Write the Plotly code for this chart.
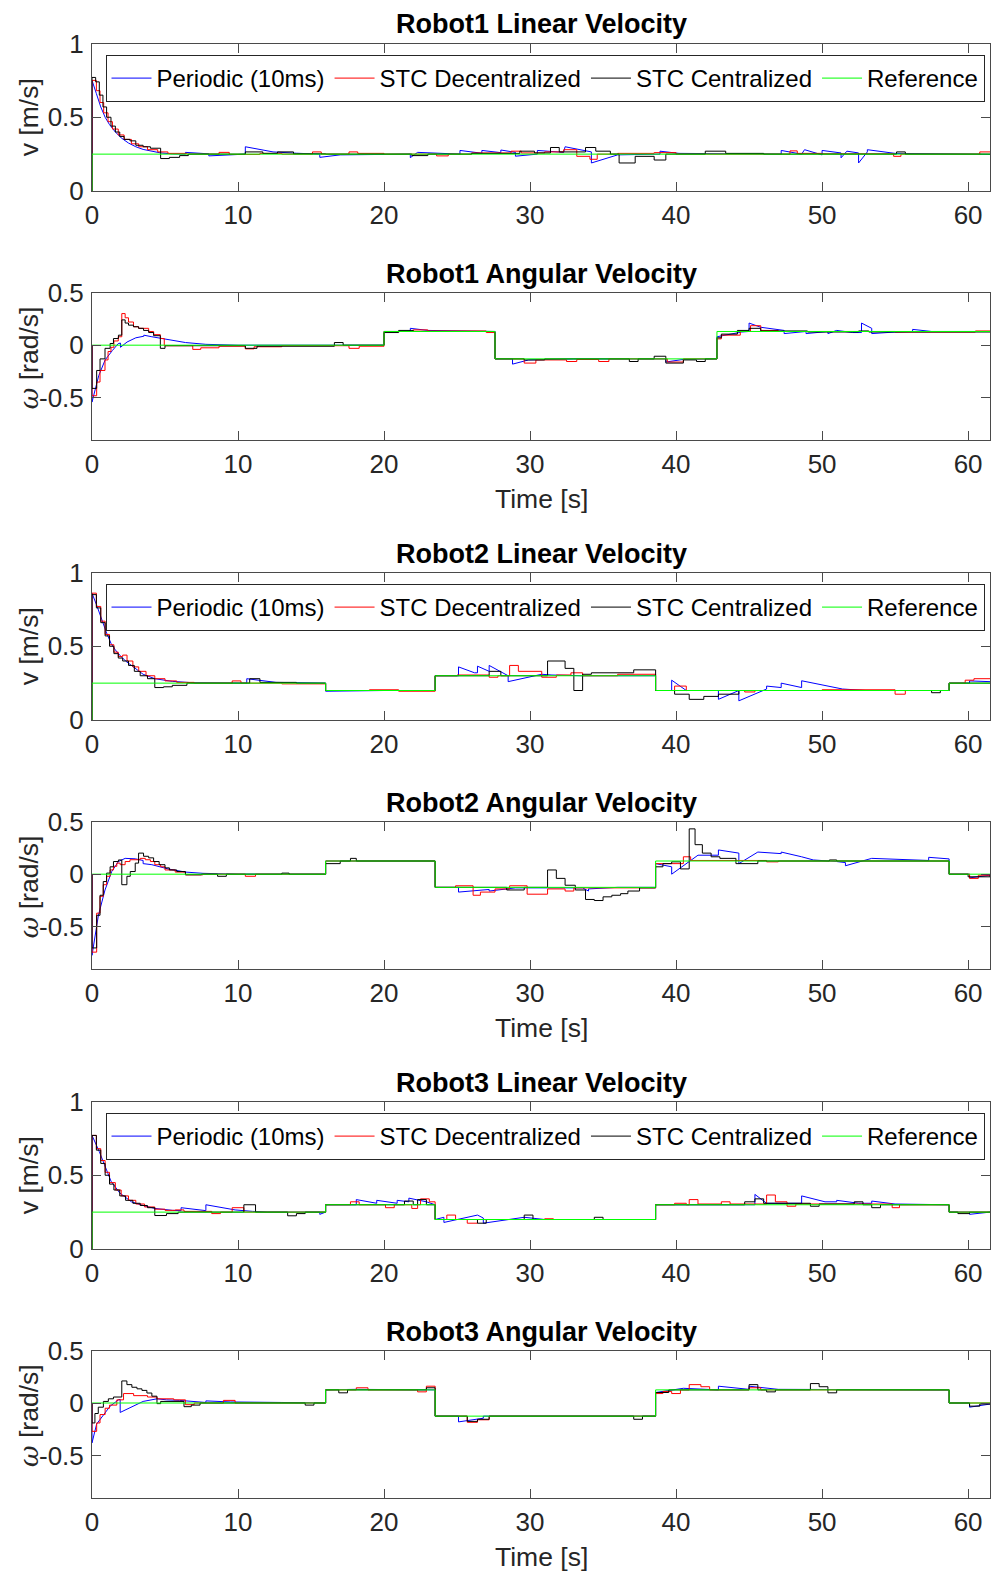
import plotly.graph_objects as go

# ---------------- data (time [s], value) ----------------
T_END = 61.5
X_TICKS = [0, 10, 20, 30, 40, 50, 60]
LIN_TICKS = [0, 0.5, 1]
ANG_TICKS = [-0.5, 0, 0.5]
SERIES_NAMES = ["Periodic (10ms)", "STC Decentralized", "STC Centralized", "Reference"]
TITLES = ["Robot1 Linear Velocity", "Robot1 Angular Velocity",
          "Robot2 Linear Velocity", "Robot2 Angular Velocity",
          "Robot3 Linear Velocity", "Robot3 Angular Velocity"]

# Robot1 linear
R1V_REF = [(0, 0), (0, 0.25), (61.5, 0.25)]
R1V_PER = [(0, 0), (0, 0.75), (0.3, 0.66), (0.6, 0.57), (0.9, 0.50), (1.2, 0.45), (1.6, 0.40), (2.0, 0.36),
           (2.5, 0.325), (3.0, 0.30), (3.5, 0.282), (4.0, 0.27), (4.7, 0.258), (5.5, 0.252), (6.4, 0.25),
           (6.4, 0.262), (8.0, 0.252), (8.0, 0.238), (9.5, 0.248), (10.5, 0.25), (10.5, 0.30), (12.4, 0.265),
           (14.0, 0.256), (15.6, 0.25), (15.6, 0.228), (17.0, 0.245), (21.8, 0.25), (21.8, 0.226), (22.3, 0.262),
           (24.0, 0.255), (25.2, 0.25), (25.2, 0.275), (26.7, 0.256), (26.7, 0.275), (28.0, 0.26), (28.0, 0.278),
           (29.0, 0.262), (29.0, 0.236), (30.5, 0.25), (30.5, 0.275), (32.3, 0.262), (32.4, 0.30), (33.8, 0.27),
           (34.2, 0.265), (34.2, 0.19), (36.0, 0.245), (38.9, 0.25), (38.9, 0.27), (40.2, 0.255), (47.2, 0.25),
           (47.2, 0.275), (48.6, 0.25), (48.8, 0.28), (50.0, 0.245), (50.0, 0.275), (51.3, 0.258), (51.3, 0.225),
           (51.7, 0.27), (52.5, 0.258), (52.5, 0.19), (53.1, 0.265), (53.1, 0.28), (55.0, 0.255), (58.0, 0.25),
           (61.5, 0.248)]
R1V_DEC = [(0, 0), (0, 0.75), (0.3, 0.68), (0.55, 0.60), (0.8, 0.53), (1.1, 0.47), (1.4, 0.42), (1.8, 0.38),
           (2.2, 0.35), (2.7, 0.32), (3.2, 0.30), (3.8, 0.28), (4.5, 0.265), (5.2, 0.255), (6.5, 0.25),
           (8.7, 0.262), (9.4, 0.248), (11.5, 0.255), (13, 0.25), (15.1, 0.265), (15.7, 0.25), (17.6, 0.265),
           (18.2, 0.255), (20, 0.25), (23.6, 0.238), (24.4, 0.25), (26, 0.258), (28.7, 0.27), (29.4, 0.258),
           (31, 0.265), (32.3, 0.28), (33.2, 0.235), (34.1, 0.215), (34.6, 0.25), (36, 0.255), (38.5, 0.26),
           (40, 0.25), (47.8, 0.272), (48.3, 0.255), (50, 0.252), (54.9, 0.235), (55.4, 0.25), (58, 0.25),
           (60.8, 0.265), (61.5, 0.265)]
R1V_CEN = [(0, 0), (0, 0.77), (0.25, 0.74), (0.5, 0.65), (0.75, 0.57), (1.0, 0.50), (1.3, 0.44), (1.6, 0.40),
           (1.9, 0.37), (2.2, 0.35), (2.6, 0.34), (3.0, 0.31), (3.5, 0.30), (4.0, 0.29), (4.7, 0.22), (5.3, 0.228),
           (6.0, 0.24), (6.6, 0.25), (10.5, 0.265), (11.7, 0.255), (12.7, 0.265), (13.8, 0.252), (16, 0.25),
           (21.9, 0.24), (23.0, 0.25), (26, 0.255), (29.3, 0.27), (30.3, 0.258), (31.4, 0.295), (32.0, 0.265),
           (33.8, 0.295), (34.5, 0.27), (35.5, 0.25), (36.1, 0.19), (37.2, 0.235), (38.5, 0.21), (39.3, 0.25),
           (42, 0.27), (43.4, 0.255), (46, 0.25), (55.1, 0.265), (55.7, 0.25), (61.5, 0.25)]

# Robot1 angular
R1W_REF = [(0, 0), (20, 0.13), (27.6, -0.13), (42.8, 0.13), (61.5, 0.13)]
R1W_PER = [(0, 0), (0, -0.54), (0.46, -0.29), (0.9, -0.14), (1.4, -0.05), (1.8, 0.015), (1.95, 0.02),
           (1.95, -0.02), (2.4, 0.03), (3.0, 0.07), (3.55, 0.085), (3.55, 0.095), (4.1, 0.08), (5.0, 0.06),
           (6.4, 0.025), (7.8, 0.008), (10, 0.0), (20, 0.0), (20, 0.13), (21.8, 0.13), (21.8, 0.16), (23.0, 0.14),
           (27.6, 0.13), (27.6, -0.13), (28.8, -0.13), (28.8, -0.18), (29.9, -0.14), (33, -0.13), (39.3, -0.13),
           (39.3, -0.16), (40.5, -0.135), (42.8, -0.13), (42.8, 0.08), (44.5, 0.125), (45.0, 0.13), (45.0, 0.21),
           (45.8, 0.17), (47.4, 0.14), (47.4, 0.11), (48.9, 0.13), (48.9, 0.11), (50.4, 0.13), (50.4, 0.11),
           (51.0, 0.14), (52.1, 0.12), (52.7, 0.12), (52.7, 0.21), (53.4, 0.16), (53.4, 0.11), (55, 0.125),
           (56.2, 0.13), (56.2, 0.15), (57.5, 0.13), (61.5, 0.13)]
R1W_DEC = [(0, 0), (0, -0.48), (0.32, -0.35), (0.55, -0.24), (0.89, -0.14), (1.1, -0.06), (1.3, -0.02),
           (1.5, 0.04), (1.8, 0.08), (2.04, 0.30), (2.27, 0.26), (2.5, 0.22), (2.84, 0.175), (3.19, 0.16),
           (3.88, 0.13), (4.22, 0.10), (4.68, 0.063), (4.95, -0.005), (6.9, -0.04), (7.45, -0.025), (8.7, -0.01),
           (10.5, -0.035), (11.1, -0.015), (13, -0.005), (17.6, -0.03), (18.3, -0.01), (20, 0.13), (22, 0.145),
           (23, 0.135), (27.0, 0.12), (27.6, -0.13), (29.6, -0.17), (30.4, -0.14), (32.5, -0.155), (33.2, -0.135),
           (34.7, -0.155), (35.4, -0.13), (39.4, -0.16), (40.5, -0.13), (42.8, 0.06), (43.1, 0.095), (44.4, 0.13),
           (45.1, 0.185), (45.8, 0.14), (47, 0.13), (55, 0.125), (60.5, 0.135), (61.5, 0.135)]
R1W_CEN = [(0, 0), (0, -0.41), (0.32, -0.24), (0.55, -0.13), (0.89, -0.03), (1.24, 0.016), (1.47, 0.063),
           (1.81, 0.095), (2.04, 0.24), (2.27, 0.21), (2.5, 0.19), (2.84, 0.175), (3.19, 0.16), (3.53, 0.14),
           (3.88, 0.12), (4.22, 0.09), (4.68, -0.03), (5.0, -0.005), (10.5, -0.03), (11.3, -0.01), (16.6, 0.025),
           (17.2, 0.0), (20, 0.12), (21, 0.14), (22, 0.13), (27.6, -0.13), (29.6, -0.14), (31, -0.13),
           (36.8, -0.155), (37.4, -0.13), (38.5, -0.105), (39.3, -0.17), (40.5, -0.14), (41.4, -0.155),
           (42.0, -0.13), (42.8, 0.07), (43.1, 0.105), (44.2, 0.14), (45.0, 0.16), (45.8, 0.135), (49, 0.125),
           (52.5, 0.135), (53.2, 0.125), (61.5, 0.125)]

# Robot2 linear
R2V_REF = [(0, 0), (0, 0.25), (16, 0.2), (23.5, 0.3), (38.6, 0.2), (58.7, 0.25), (61.5, 0.25)]
R2V_PER = [(0, 0), (0, 0.86), (0.35, 0.77), (0.7, 0.67), (1.0, 0.59), (1.3, 0.52), (1.6, 0.475), (1.9, 0.44),
           (2.3, 0.40), (2.7, 0.37), (3.1, 0.34), (3.5, 0.31), (4.3, 0.28), (5.5, 0.262), (7, 0.252), (10.6, 0.25),
           (10.6, 0.28), (12.6, 0.255), (16, 0.25), (16, 0.195), (20, 0.2), (23.5, 0.2), (23.5, 0.30), (25.1, 0.30),
           (25.1, 0.36), (26.2, 0.32), (26.4, 0.32), (26.4, 0.365), (27.2, 0.33), (27.2, 0.37), (28.5, 0.30),
           (28.5, 0.26), (30.8, 0.31), (31.5, 0.305), (33.5, 0.3), (38.6, 0.3), (38.6, 0.2), (39.7, 0.2),
           (39.7, 0.27), (40.7, 0.2), (42.9, 0.2), (42.9, 0.14), (44.3, 0.2), (44.3, 0.13), (46.2, 0.21),
           (46.2, 0.23), (47.2, 0.22), (47.2, 0.25), (48.6, 0.22), (48.6, 0.266), (51.4, 0.21), (53, 0.2),
           (58.7, 0.2), (58.7, 0.25), (60.1, 0.25), (60.1, 0.265), (61.5, 0.26)]
R2V_DEC = [(0, 0), (0, 0.86), (0.3, 0.77), (0.6, 0.67), (0.9, 0.58), (1.2, 0.51), (1.5, 0.46), (1.8, 0.43),
           (2.1, 0.44), (2.4, 0.40), (2.8, 0.36), (3.2, 0.33), (3.7, 0.30), (4.3, 0.28), (5.0, 0.265), (5.8, 0.255),
           (7, 0.25), (9.6, 0.265), (10.2, 0.25), (13, 0.245), (16, 0.2), (19, 0.205), (21, 0.195), (23.5, 0.3),
           (25, 0.305), (27.2, 0.29), (27.8, 0.3), (28.6, 0.37), (29.2, 0.33), (30.8, 0.29), (31.8, 0.305),
           (32.8, 0.32), (33.6, 0.3), (36, 0.31), (38.6, 0.2), (39.9, 0.23), (40.7, 0.2), (44.7, 0.19), (45.4, 0.2),
           (50, 0.205), (55, 0.175), (55.7, 0.2), (58.7, 0.25), (59.8, 0.27), (60.4, 0.28), (61.5, 0.28)]
R2V_CEN = [(0, 0), (0, 0.85), (0.3, 0.76), (0.6, 0.66), (0.9, 0.57), (1.2, 0.50), (1.5, 0.45), (1.8, 0.42),
           (2.1, 0.40), (2.5, 0.37), (2.9, 0.33), (3.3, 0.30), (3.8, 0.28), (4.3, 0.22), (4.9, 0.225), (5.5, 0.235),
           (6.5, 0.25), (10.8, 0.28), (11.5, 0.255), (14, 0.25), (16, 0.2), (23.5, 0.3), (27.2, 0.33), (28, 0.3),
           (31.2, 0.40), (32.4, 0.35), (33, 0.2), (33.6, 0.31), (34.2, 0.32), (37.1, 0.34), (38.6, 0.2),
           (39.9, 0.175), (40.9, 0.14), (41.9, 0.16), (42.9, 0.175), (44.3, 0.2), (57.5, 0.185), (58.1, 0.2),
           (58.7, 0.25), (61.5, 0.25)]

# Robot2 angular
R2W_REF = [(0, 0), (16, 0.125), (23.5, -0.125), (38.6, 0.125), (58.7, 0.0), (61.5, 0.0)]
R2W_PER = [(0, 0), (0, -0.77), (0.44, -0.39), (0.89, -0.15), (1.35, 0.025), (1.81, 0.12), (2.27, 0.15),
           (2.96, 0.146), (3.5, 0.13), (3.5, 0.10), (4.1, 0.09), (5.2, 0.05), (6.4, 0.02), (7.6, 0.008), (10, 0.0),
           (16, 0.0), (16, 0.125), (23.5, 0.125), (23.5, -0.125), (25.1, -0.125), (25.1, -0.17), (27.2, -0.145),
           (27.2, -0.16), (29, -0.13), (33.6, -0.13), (34.0, -0.16), (34.0, -0.14), (36, -0.125), (38.6, -0.125),
           (38.6, 0.10), (39.7, 0.07), (39.7, 0.0), (41.5, 0.18), (42.9, 0.18), (42.9, 0.23), (44.3, 0.20),
           (44.3, 0.10), (45.6, 0.21), (47.2, 0.195), (47.2, 0.21), (48.6, 0.165), (49.4, 0.135), (51, 0.12),
           (51.6, 0.11), (51.6, 0.08), (53.4, 0.15), (57.3, 0.13), (57.3, 0.16), (58.7, 0.145), (58.7, 0.0),
           (60.1, 0.0), (60.1, -0.035), (61.5, -0.01)]
R2W_DEC = [(0, 0), (0, -0.74), (0.32, -0.37), (0.55, -0.21), (0.77, -0.10), (1.0, -0.02), (1.24, 0.04),
           (1.47, 0.075), (1.7, 0.105), (1.93, 0.09), (2.27, 0.12), (2.6, 0.137), (3.3, 0.15), (3.65, 0.137),
           (4.0, 0.12), (4.3, 0.09), (4.7, 0.07), (5.0, 0.04), (5.7, 0.02), (6.4, -0.006), (7.6, 0.0),
           (10.5, -0.02), (11.2, 0.0), (16, 0.125), (23.5, -0.125), (24.9, -0.11), (26.1, -0.2), (26.6, -0.17),
           (27.6, -0.14), (28.6, -0.11), (29.8, -0.19), (31.2, -0.14), (32.4, -0.16), (33.0, -0.13), (38.6, 0.10),
           (40.5, 0.165), (41.0, 0.13), (46.2, 0.117), (47, 0.125), (58.7, 0.0), (60.1, -0.04), (60.7, -0.01),
           (61.5, -0.01)]
R2W_CEN = [(0, 0), (0, -0.70), (0.32, -0.39), (0.55, -0.20), (0.77, -0.07), (1.0, 0.01), (1.24, 0.07),
           (1.47, 0.12), (1.81, 0.135), (2.04, -0.10), (2.39, -0.02), (2.62, 0.025), (2.96, 0.105), (3.19, 0.2),
           (3.53, 0.17), (3.88, 0.155), (4.22, 0.12), (4.6, 0.09), (5.0, 0.06), (5.3, 0.04), (5.8, 0.025),
           (6.4, -0.006), (7.5, 0.0), (8.6, -0.02), (9.2, 0.0), (13, 0.01), (13.5, 0.0), (16, 0.1), (17.0, 0.125),
           (17.7, 0.15), (18.1, 0.125), (23.5, -0.125), (28.4, -0.15), (29.6, -0.125), (31.2, 0.04), (31.8, -0.04),
           (32.4, -0.105), (33.1, -0.15), (33.8, -0.24), (34.4, -0.25), (35.0, -0.215), (35.6, -0.2),
           (36.2, -0.185), (36.7, -0.16), (37.5, -0.13), (38.6, 0.07), (39.1, 0.1), (39.7, 0.117), (40.3, 0.05),
           (40.9, 0.43), (41.3, 0.28), (41.8, 0.2), (42.4, 0.165), (43.0, 0.15), (44.1, 0.1), (45.6, 0.125),
           (50.5, 0.135), (51, 0.125), (58.7, 0.0), (60.0, -0.025), (61.5, -0.01)]

# Robot3 linear
R3V_REF = [(0, 0), (0, 0.25), (16, 0.3), (23.5, 0.2), (38.6, 0.3), (58.7, 0.25), (61.5, 0.25)]
R3V_PER = [(0, 0), (0, 0.77), (0.5, 0.66), (0.9, 0.555), (1.3, 0.46), (1.9, 0.38), (2.7, 0.32), (3.5, 0.295),
           (4.3, 0.275), (5.5, 0.262), (6.1, 0.26), (6.1, 0.28), (7.8, 0.26), (7.8, 0.30), (9.8, 0.265), (11, 0.255),
           (12, 0.25), (15.6, 0.25), (15.6, 0.235), (16, 0.25), (16, 0.3), (18.1, 0.3), (18.1, 0.335), (19.5, 0.31),
           (19.5, 0.33), (20.9, 0.31), (20.9, 0.33), (21.7, 0.32), (21.7, 0.345), (22.9, 0.32), (23.5, 0.3),
           (23.5, 0.2), (24.1, 0.215), (24.1, 0.18), (26.4, 0.23), (26.8, 0.21), (26.8, 0.175), (29.6, 0.215),
           (31, 0.2), (38.6, 0.2), (38.6, 0.3), (45.4, 0.3), (45.4, 0.37), (46.2, 0.31), (48.6, 0.31), (48.6, 0.36),
           (50.2, 0.32), (51, 0.32), (51, 0.33), (52.5, 0.31), (53.4, 0.31), (53.4, 0.325), (55, 0.305),
           (58.7, 0.3), (58.7, 0.25), (60.1, 0.25), (60.1, 0.235), (61.5, 0.25)]
R3V_DEC = [(0, 0), (0, 0.77), (0.3, 0.68), (0.6, 0.6), (0.9, 0.52), (1.2, 0.45), (1.6, 0.40), (2.0, 0.36),
           (2.5, 0.33), (3.0, 0.305), (3.6, 0.285), (4.3, 0.27), (5.0, 0.262), (5.7, 0.265), (6.3, 0.255),
           (8.2, 0.24), (8.8, 0.25), (9.6, 0.28), (10.4, 0.25), (16, 0.3), (17.7, 0.32), (18.3, 0.3), (20.1, 0.28),
           (20.7, 0.3), (21.9, 0.275), (22.3, 0.3), (22.5, 0.34), (23.1, 0.32), (23.5, 0.2), (24.3, 0.23),
           (24.9, 0.2), (25.7, 0.175), (26.4, 0.2), (31, 0.205), (31.6, 0.2), (38.6, 0.3), (39.9, 0.31),
           (40.7, 0.3), (40.9, 0.335), (41.5, 0.305), (43.1, 0.32), (43.7, 0.305), (46.2, 0.366), (46.8, 0.32),
           (47.6, 0.29), (48.2, 0.305), (54.8, 0.28), (55.3, 0.3), (58.7, 0.25), (61.5, 0.25)]
R3V_CEN = [(0, 0), (0, 0.77), (0.3, 0.67), (0.6, 0.58), (0.9, 0.5), (1.2, 0.44), (1.5, 0.40), (1.9, 0.36),
           (2.3, 0.33), (2.8, 0.31), (3.3, 0.295), (3.8, 0.28), (4.3, 0.227), (5.1, 0.24), (5.9, 0.25),
           (10.4, 0.3), (11.2, 0.25), (13.4, 0.225), (14, 0.24), (14.6, 0.25), (16, 0.3), (21.4, 0.325),
           (22.0, 0.3), (22.3, 0.335), (22.9, 0.3), (23.5, 0.2), (24.9, 0.2), (26.4, 0.175), (27, 0.2),
           (29.6, 0.23), (30.2, 0.2), (34.4, 0.215), (35, 0.2), (38.6, 0.3), (44.7, 0.32), (45.4, 0.34),
           (46, 0.31), (49.2, 0.29), (49.8, 0.305), (52.2, 0.32), (52.8, 0.3), (53.4, 0.28), (54, 0.3),
           (58.7, 0.25), (59.3, 0.24), (60.1, 0.25), (61.5, 0.25)]

# Robot3 angular
R3W_REF = [(0, 0), (16, 0.125), (23.5, -0.125), (38.6, 0.125), (58.7, 0.0), (61.5, 0.0)]
R3W_PER = [(0, 0), (0, -0.38), (0.32, -0.2), (0.78, -0.11), (1.24, -0.03), (1.81, 0.03), (1.93, 0.035),
           (1.93, -0.09), (2.85, -0.03), (3.5, 0.015), (4.45, 0.04), (5.1, 0.03), (6.0, 0.025), (7.8, 0.005),
           (7.8, 0.02), (9.5, 0.01), (13, 0.005), (16, 0.0), (16, 0.125), (18, 0.13), (23.5, 0.125),
           (23.5, -0.125), (25.1, -0.125), (25.1, -0.18), (26.8, -0.145), (26.8, -0.125), (30, -0.125),
           (38.6, -0.125), (38.6, 0.1), (40, 0.125), (40.5, 0.14), (42.9, 0.125), (42.9, 0.16), (45, 0.13),
           (45, 0.16), (47, 0.13), (52, 0.13), (58.7, 0.125), (58.7, 0.0), (60.1, 0.0), (60.1, -0.04),
           (61.5, -0.01)]
R3W_DEC = [(0, 0), (0, -0.27), (0.32, -0.19), (0.55, -0.11), (0.9, -0.05), (1.2, -0.02), (1.7, 0.03),
           (2.16, 0.09), (2.85, 0.07), (3.8, 0.057), (4.45, 0.04), (5.6, 0.03), (6.4, -0.016), (7.0, 0.0),
           (9.0, 0.025), (9.8, 0.0), (16, 0.125), (18.1, 0.145), (18.9, 0.125), (22.3, 0.106), (22.9, 0.16),
           (23.5, -0.125), (25.7, -0.184), (26.4, -0.16), (27.2, -0.125), (38.6, 0.09), (39.1, 0.11),
           (39.7, 0.09), (40.3, 0.125), (40.9, 0.175), (41.7, 0.155), (42.3, 0.125), (45, 0.145), (45.8, 0.125),
           (58.7, 0.0), (61.5, 0.0)]
R3W_CEN = [(0, 0), (0, -0.19), (0.2, -0.1), (0.43, -0.04), (0.78, 0.015), (1.12, 0.04), (1.47, 0.057),
           (2.04, 0.21), (2.39, 0.175), (2.73, 0.15), (3.08, 0.135), (3.42, 0.12), (3.76, 0.095), (4.1, 0.065),
           (4.45, -0.006), (4.7, 0.015), (6.3, -0.035), (6.8, -0.02), (7.4, 0.0), (14.6, -0.02), (15.2, 0.0),
           (16, 0.125), (16.9, 0.097), (17.5, 0.125), (22.9, 0.145), (23.5, -0.125), (25.7, -0.175),
           (26.4, -0.155), (27.2, -0.125), (37.1, -0.155), (37.7, -0.125), (38.6, 0.1), (39.5, 0.125),
           (45, 0.175), (45.6, 0.125), (46.2, 0.106), (46.8, 0.125), (49.2, 0.185), (49.8, 0.155), (50.4, 0.097),
           (51, 0.125), (58.7, 0.0), (60.1, -0.03), (60.8, -0.01), (61.5, -0.01)]

# ---------------- figure ----------------
W, H = 991, 1573
FONT = "Liberation Sans, Arial, Helvetica, sans-serif"
AX_COLOR = "#262626"
LINE_COLOR = "#4a4a4a"
COLORS = ["#0000FF", "#FF0000", "#000000", "#00FF00"]

PLOT_LEFT, PLOT_RIGHT = 92.0, 990.0
# (top px, bottom px)
PANEL_PX = [(43.5, 191.0), (292.5, 440.0), (572.5, 720.0), (821.5, 969.0), (1101.5, 1249.0), (1350.5, 1497.5)]

panels = [
    (R1V_PER, R1V_DEC, R1V_CEN, R1V_REF, "lin", "legend"),
    (R1W_PER, R1W_DEC, R1W_CEN, R1W_REF, "ang", None),
    (R2V_PER, R2V_DEC, R2V_CEN, R2V_REF, "lin", "legend2"),
    (R2W_PER, R2W_DEC, R2W_CEN, R2W_REF, "ang", None),
    (R3V_PER, R3V_DEC, R3V_CEN, R3V_REF, "lin", "legend3"),
    (R3W_PER, R3W_DEC, R3W_CEN, R3W_REF, "ang", None),
]


def unzip(pairs):
    return [p[0] for p in pairs], [p[1] for p in pairs]


fig = go.Figure()
layout = dict(
    template="none",
    width=W, height=H, margin=dict(l=0, r=0, t=0, b=0, pad=0, autoexpand=False),
    paper_bgcolor="white", plot_bgcolor="white",
    font=dict(family=FONT, color=AX_COLOR),
    annotations=[],
)

x0d, x1d = PLOT_LEFT / W, PLOT_RIGHT / W
xc = (PLOT_LEFT + PLOT_RIGHT) / 2 / W

for i, (per, dec, cen, ref, kind, leg) in enumerate(panels):
    k = i + 1
    xa = "x" if k == 1 else f"x{k}"
    ya = "y" if k == 1 else f"y{k}"
    for j, (series, shape) in enumerate([(per, "linear"), (dec, "hv"), (cen, "hv"), (ref, "hv")]):
        tx, vy = unzip(series)
        tr = go.Scatter(x=tx, y=vy, mode="lines", name=SERIES_NAMES[j],
                        line=dict(color=COLORS[j], width=1, shape=shape),
                        xaxis=xa, yaxis=ya, showlegend=leg is not None, hoverinfo="skip")
        if leg is not None:
            tr.legend = leg
        fig.add_trace(tr)

    top, bot = PANEL_PX[i]
    ydom = [1 - bot / H, 1 - top / H]
    xkey = "xaxis" if k == 1 else f"xaxis{k}"
    ykey = "yaxis" if k == 1 else f"yaxis{k}"
    layout[xkey] = dict(
        domain=[x0d, x1d], anchor=ya, range=[0, T_END], tickvals=X_TICKS,
        ticks="inside", ticklen=9, tickwidth=1, tickcolor=LINE_COLOR,
        showline=True, linecolor=LINE_COLOR, linewidth=1, mirror="ticks",
        showgrid=False, zeroline=False, fixedrange=True, automargin=False,
        tickfont=dict(size=26, color=AX_COLOR, family=FONT), ticklabelstandoff=1,
    )
    if kind == "lin":
        yr, yt = [0, 1], LIN_TICKS
        ylabel = "v [m/s]"
        lab_x, lab_dy = 29, 0
    else:
        yr, yt = [-0.9, 0.5], ANG_TICKS
        ylabel = '<span style="font-family:DejaVu Serif"><i>ω</i></span> [rad/s]'
        lab_x, lab_dy = 28, -8
    layout[ykey] = dict(
        domain=ydom, anchor=xa, range=yr, tickvals=yt, ticktext=[f"{v:g}" for v in yt],
        ticks="inside", ticklen=9, tickwidth=1, tickcolor=LINE_COLOR,
        showline=True, linecolor=LINE_COLOR, linewidth=1, mirror="ticks",
        showgrid=False, zeroline=False, fixedrange=True, automargin=False,
        tickfont=dict(size=26, color=AX_COLOR, family=FONT), ticklabelstandoff=2,
    )
    # subplot title
    layout["annotations"].append(dict(
        text=f"<b>{TITLES[i]}</b>", xref="paper", yref="paper", x=xc, y=1 - (top - 19) / H,
        xanchor="center", yanchor="middle", showarrow=False,
        font=dict(size=27, color="black", family=FONT)))
    # y label
    layout["annotations"].append(dict(
        text=ylabel, xref="paper", yref="paper", x=lab_x / W, y=1 - ((top + bot) / 2 + lab_dy) / H,
        xanchor="center", yanchor="middle", textangle=-90, showarrow=False,
        font=dict(size=26.5, color=AX_COLOR, family=FONT)))
    # x label
    if kind == "ang":
        layout["annotations"].append(dict(
            text="Time [s]", xref="paper", yref="paper", x=xc, y=1 - (bot + 59) / H,
            xanchor="center", yanchor="middle", showarrow=False,
            font=dict(size=26.5, color=AX_COLOR, family=FONT)))
    if leg is not None:
        layout[leg] = dict(
            orientation="h", x=545 / W, xanchor="center", y=1 - (top + 11.5) / H, yanchor="top",
            bgcolor="white", bordercolor=AX_COLOR, borderwidth=1,
            font=dict(size=24, color="black", family=FONT), itemwidth=40, tracegroupgap=0,
        )

fig.update_layout(**layout)
fig.write_html(
    "out.html",
    config={"displayModeBar": False, "staticPlot": True},
    post_script="document.body.style.margin='0';document.body.style.padding='0';"
                "document.body.style.overflow='hidden';",
)
